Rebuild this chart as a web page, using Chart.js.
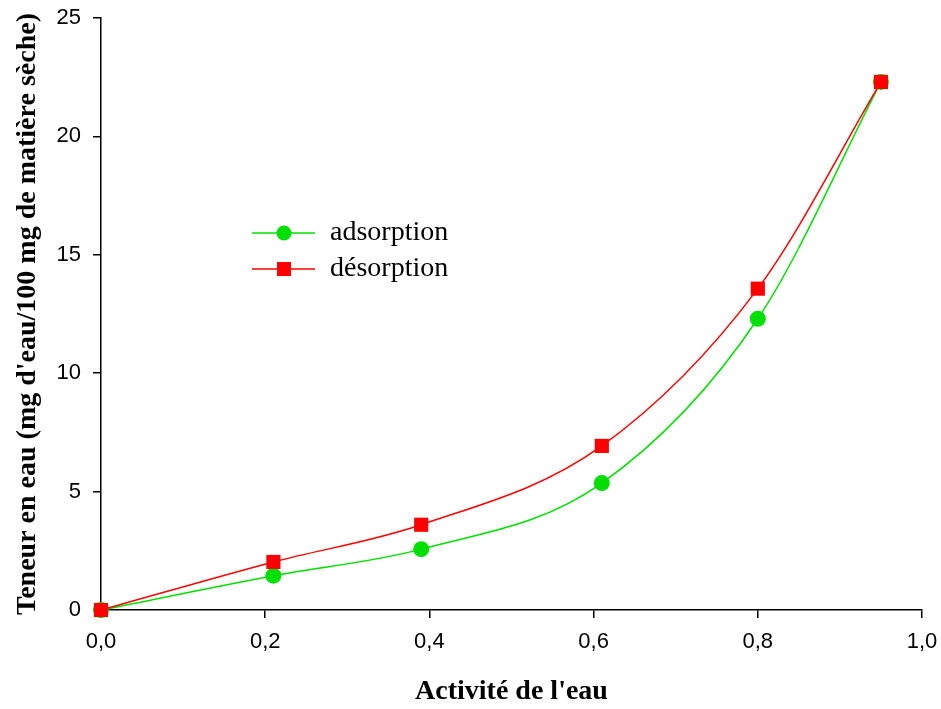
<!DOCTYPE html>
<html>
<head>
<meta charset="utf-8">
<script src="https://cdn.jsdelivr.net/npm/chart.js@4/dist/chart.umd.min.js"></script>
<style>
  html, body { margin: 0; padding: 0; background: #fff; }
  #wrap { width: 941px; height: 709px; position: relative; }
</style>
</head>
<body>
<div id="wrap"><canvas id="chart"></canvas></div>
<script>
// Données
const activite = [0, 0.21, 0.39, 0.61, 0.80, 0.95];
const adsorption = [0, 1.45, 2.57, 5.36, 12.3, 22.3];
const desorption = [0, 2.03, 3.6, 6.93, 13.57, 22.3];
const xTicks = [0, 0.2, 0.4, 0.6, 0.8, 1.0];
const yTicks = [0, 5, 10, 15, 20, 25];

const toPoints = (xs, ys) => xs.map((x, i) => ({ x: x, y: ys[i] }));

// Légende dessinée dans la zone du graphique
const legendInside = {
    id: 'legendInside',
    afterDraw(chart) {
        const ctx = chart.ctx;
        const items = [
            { label: 'adsorption', color: '#00e000', style: 'circle', y: 233 },
            { label: 'désorption', color: '#ff0000', style: 'rect', y: 269 }
        ];
        ctx.save();
        items.forEach(it => {
            ctx.strokeStyle = it.color;
            ctx.lineWidth = 1.5;
            ctx.beginPath();
            ctx.moveTo(252, it.y);
            ctx.lineTo(315, it.y);
            ctx.stroke();
            ctx.fillStyle = it.color;
            if (it.style === 'circle') {
                ctx.beginPath();
                ctx.arc(284, it.y, 7.5, 0, Math.PI * 2);
                ctx.fill();
            } else {
                ctx.fillRect(277, it.y - 7, 14, 14);
            }
            ctx.fillStyle = '#000';
            ctx.font = '28px "Liberation Serif", "DejaVu Serif", serif';
            ctx.textBaseline = 'middle';
            ctx.fillText(it.label, 330, it.y);
        });
        ctx.restore();
    }
};

new Chart(document.getElementById('chart'), {
    type: 'scatter',
    data: {
        datasets: [
            {
                label: 'adsorption',
                data: toPoints(activite, adsorption),
                showLine: true,
                clip: false,
                borderColor: '#00e000',
                backgroundColor: '#00e000',
                borderWidth: 1.5,
                pointStyle: 'circle',
                pointRadius: 8,
                pointBorderWidth: 0,
                tension: 0.4,
                cubicInterpolationMode: 'monotone',
                order: 1
            },
            {
                label: 'désorption',
                data: toPoints(activite, desorption),
                showLine: true,
                clip: false,
                borderColor: '#ff0000',
                backgroundColor: '#ff0000',
                borderWidth: 1.5,
                pointStyle: 'rect',
                pointRadius: 10,
                pointBorderWidth: 0,
                tension: 0.4,
                cubicInterpolationMode: 'monotone',
                order: 0
            }
        ]
    },
    options: {
        responsive: true,
        maintainAspectRatio: false,
        animation: false,
        layout: { padding: { top: 18, right: 19, left: 0, bottom: 0 } },
        plugins: {
            legend: { display: false },
            tooltip: { enabled: false }
        },
        scales: {
            x: {
                type: 'linear',
                min: 0,
                max: 1,
                afterFit: s => { s.height = 99; s.paddingLeft = 0; s.paddingRight = 0; },
                afterBuildTicks: s => { s.ticks = xTicks.map(v => ({ value: v })); },
                border: { color: '#000', width: 1.5 },
                grid: { drawOnChartArea: false, drawTicks: true, tickLength: 8, color: '#000', lineWidth: 1.5 },
                ticks: {
                    color: '#000',
                    padding: 11,
                    font: { family: '"Liberation Sans", Arial, sans-serif', size: 22 },
                    callback: v => v.toFixed(1).replace('.', ',')
                },
                title: {
                    display: true,
                    text: "Activité de l'eau",
                    color: '#000',
                    padding: { bottom: 0 },
                    font: { family: '"Liberation Serif", "DejaVu Serif", serif', size: 28, weight: 'bold' }
                }
            },
            y: {
                type: 'linear',
                min: 0,
                max: 25,
                afterFit: s => { s.width = 101; s.paddingTop = 0; s.paddingBottom = 0; },
                afterBuildTicks: s => { s.ticks = yTicks.map(v => ({ value: v })); },
                border: { color: '#000', width: 1.5 },
                grid: { drawOnChartArea: false, drawTicks: true, tickLength: 8, color: '#000', lineWidth: 1.5 },
                ticks: {
                    color: '#000',
                    padding: 12,
                    font: { family: '"Liberation Sans", Arial, sans-serif', size: 22 }
                },
                title: {
                    display: true,
                    text: "Teneur en eau (mg d'eau/100 mg de matière sèche)",
                    color: '#000',
                    padding: { top: 11 },
                    font: { family: '"Liberation Serif", "DejaVu Serif", serif', size: 28, weight: 'bold' }
                }
            }
        }
    },
    plugins: [legendInside]
});
</script>
</body>
</html>
